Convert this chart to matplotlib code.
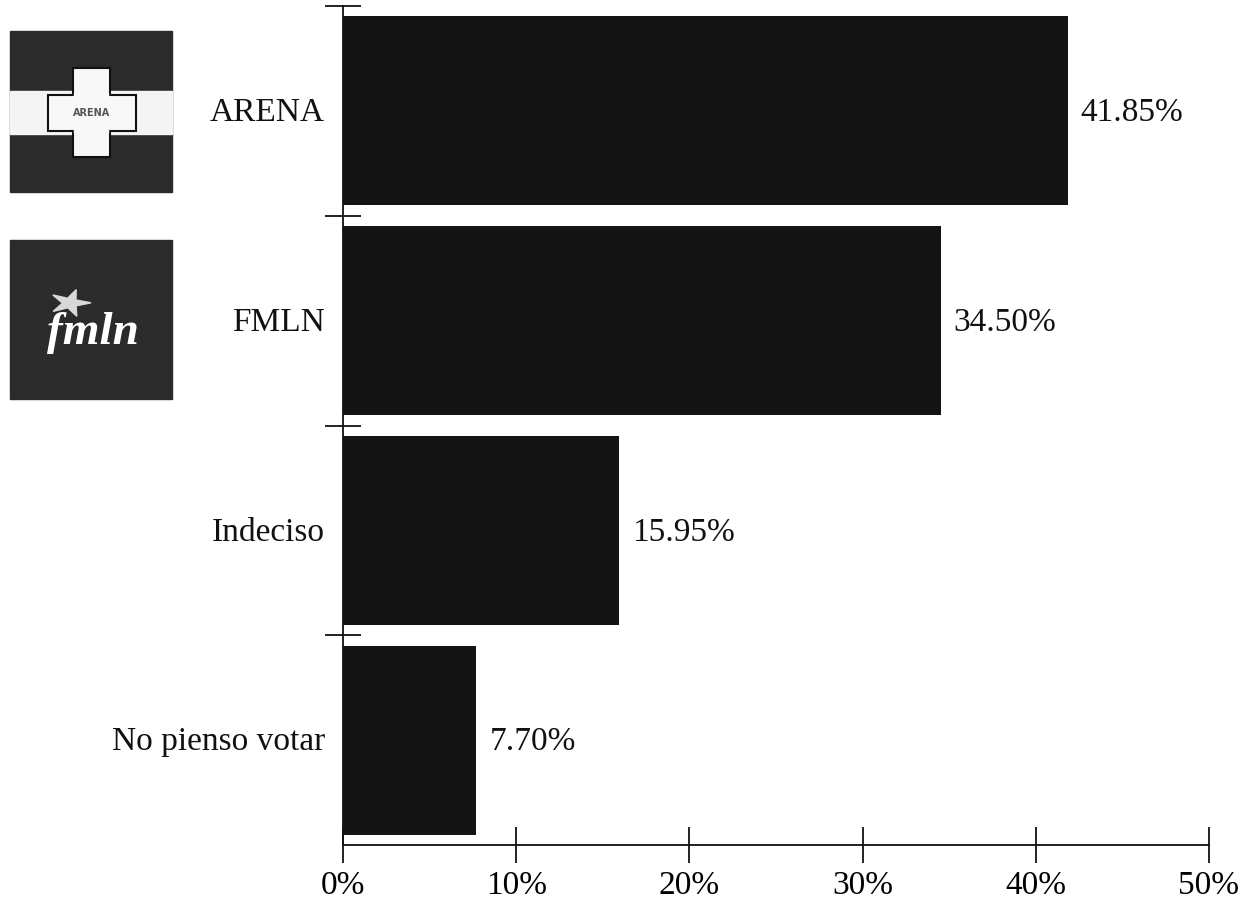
import matplotlib
matplotlib.use("Agg")
import matplotlib.pyplot as plt
from matplotlib.patches import Rectangle
import matplotlib.patches as mpatches
import numpy as np

categories = ["ARENA", "FMLN", "Indeciso", "No pienso votar"]
values = [41.85, 34.50, 15.95, 7.70]
value_labels = ["41.85%", "34.50%", "15.95%", "7.70%"]
xticks = [0, 10, 20, 30, 40, 50]
xtick_labels = ["0%", "10%", "20%", "30%", "40%", "50%"]

plt.rcParams['font.family'] = ['Liberation Serif', 'DejaVu Serif']

W, H = 1243, 900
fig = plt.figure(figsize=(W / 100, H / 100), dpi=100)
ax = fig.add_axes([343 / W, 1 - 845 / H, (1209 - 343) / W, (845 - 6) / H])

ypos = np.arange(len(categories))
ax.barh(ypos, values, height=0.9, color="#141414")
ax.set_xlim(0, 50)
ax.set_ylim(len(categories) - 0.5, -0.5)

for s in ["top", "right"]:
    ax.spines[s].set_visible(False)
for s in ["left", "bottom"]:
    ax.spines[s].set_linewidth(1.3)
    ax.spines[s].set_color("#111111")

FS = 24
ax.set_yticks(np.arange(len(categories)) - 0.5)
ax.set_yticklabels([])
ax.tick_params(axis="y", direction="inout", length=26, width=1.3, color="#111111")
ax.set_xticks(xticks)
ax.set_xticklabels(xtick_labels, fontsize=FS)
ax.tick_params(axis="x", direction="inout", length=26, width=1.3, color="#111111", pad=5)

for y, cat in zip(ypos, categories):
    ax.annotate(cat, xy=(0, y), xytext=(-18, -2), textcoords="offset pixels",
                ha="right", va="center", fontsize=FS, color="#111111")
for y, v, lab in zip(ypos, values, value_labels):
    ax.annotate(lab, xy=(v, y), xytext=(13, -2), textcoords="offset pixels",
                ha="left", va="center", fontsize=FS, color="#111111")

# Logos (drawn with patches in pixel coordinates)
lax = fig.add_axes([0, 0, 1, 1], zorder=-1)
lax.set_xlim(0, W)
lax.set_ylim(H, 0)
lax.axis("off")

# ARENA logo
lax.add_patch(Rectangle((10, 31), 162, 161, color="#2b2b2b"))
lax.add_patch(Rectangle((10, 91), 162, 43, color="#f4f4f4"))
lax.add_patch(Rectangle((73, 68), 37, 89, facecolor="#f8f8f8", edgecolor="#111111", linewidth=1.5))
lax.add_patch(Rectangle((48, 95), 88, 36, facecolor="#f8f8f8", edgecolor="#111111", linewidth=1.5))
lax.add_patch(Rectangle((74.5, 93), 34, 40, color="#f8f8f8"))
lax.text(92, 113, "ARENA", ha="center", va="center", fontsize=7, color="#555555",
         family=["DejaVu Sans"], fontweight="bold")

# FMLN logo
lax.add_patch(Rectangle((10, 240), 162, 159, color="#2b2b2b"))
star_cx, star_cy = 70, 303
pts = []
for i in range(10):
    r = 14 if i % 2 == 0 else 5
    a = np.pi / 2 + i * np.pi / 5 - 0.3
    pts.append((star_cx + r * np.cos(a) * 1.5, star_cy - r * np.sin(a)))
lax.add_patch(mpatches.Polygon(pts, closed=True, color="#d8d8d8"))
lax.text(93, 333, "fmln", ha="center", va="center", fontsize=34, color="#ffffff",
         fontstyle="italic", fontweight="bold", family=["Liberation Serif"])

fig.savefig("out.png", dpi=100)
